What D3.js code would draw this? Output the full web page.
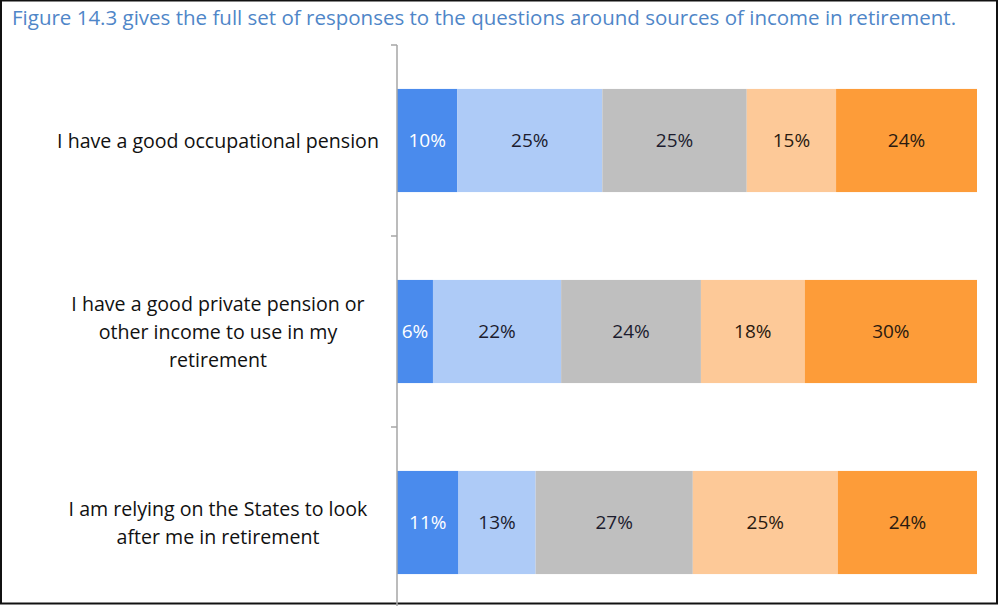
<!DOCTYPE html>
<html>
<head>
<meta charset="utf-8">
<script src="https://cdn.jsdelivr.net/npm/d3@7"></script>
<style>
  body { margin: 0; background: #fff; }
  svg { display: block; }
</style>
</head>
<body>
<div id="chart"></div>
<script>
// categories (top to bottom) and the five response bands, in percent
const categories = [
    ['I have a good occupational pension'],
    ['I have a good private pension or', 'other income to use in my', 'retirement'],
    ['I am relying on the States to look', 'after me in retirement']
];
const band1 = [10.4, 6.2, 10.6];
const band2 = [25.0, 22.1, 13.3];
const band3 = [24.9, 24.1, 27.1];
const band4 = [15.4, 17.9, 25.0];
const band5 = [24.3, 29.7, 24.0];
const bandColors = ['#4a8bed', '#aecbf7', '#bfbfbf', '#fdc998', '#fd9c39'];
const labelColors = ['#ffffff', '#1c1c2e', '#1c1c2e', '#2a1a10', '#2a1a10'];

const title = 'Figure 14.3 gives the full set of responses to the questions around sources of income in retirement.';

const width = 1000, height = 606;
const margin = { top: 45, right: 23, bottom: -12, left: 397 };
const font = 'Open Sans, sans-serif';

const svg = d3.select('#chart')
    .append('svg')
    .attr('width', width)
    .attr('height', height);

svg.append('rect')
    .attr('x', 1).attr('y', 0.5)
    .attr('width', width - 4).attr('height', height - 3)
    .attr('fill', '#fff')
    .attr('stroke', '#111')
    .attr('stroke-width', 2);

svg.append('text')
    .attr('x', 12)
    .attr('y', 25)
    .attr('fill', '#4f86c8')
    .attr('font-family', font)
    .attr('font-size', '20.5px')
    .text(title);

const rows = categories.map((c, i) => ({
    key: i,
    lines: c,
    values: [band1[i], band2[i], band3[i], band4[i], band5[i]]
}));

const xScale = d3.scaleLinear()
    .domain([0, 100])
    .range([margin.left, width - margin.right]);

const yScale = d3.scaleBand()
    .domain(rows.map(d => d.key))
    .range([margin.top, height - margin.bottom])
    .paddingInner(0.46)
    .paddingOuter(0.23);

// stack
const stack = d3.stack().keys([0, 1, 2, 3, 4]).value((d, k) => d.values[k]);
const series = stack(rows);

const groups = svg.selectAll('.series')
    .data(series)
    .enter()
    .append('g')
    .attr('class', 'series');

groups.selectAll('rect')
    .data(d => d.map(p => ({ p: p, k: d.key })))
    .enter()
    .append('rect')
    .attr('x', d => xScale(d.p[0]))
    .attr('y', d => yScale(d.p.data.key))
    .attr('width', d => xScale(d.p[1]) - xScale(d.p[0]))
    .attr('height', yScale.bandwidth())
    .attr('fill', d => bandColors[d.k]);

groups.selectAll('text')
    .data(d => d.map(p => ({ p: p, k: d.key })))
    .enter()
    .append('text')
    .attr('x', d => (xScale(d.p[0]) + xScale(d.p[1])) / 2)
    .attr('y', d => yScale(d.p.data.key) + yScale.bandwidth() / 2)
    .attr('dy', '0.36em')
    .attr('text-anchor', 'middle')
    .attr('font-family', font)
    .attr('font-size', '19px')
    .attr('fill', d => labelColors[d.k])
    .text(d => Math.round(d.p[1] - d.p[0]) + '%');

// category axis
const yAxis = d3.axisLeft(yScale)
    .tickSize(0)
    .tickFormat('');

const axisG = svg.append('g')
    .attr('transform', `translate(${margin.left},0)`)
    .call(yAxis);
axisG.select('.domain')
    .attr('stroke', '#a6a6a6')
    .attr('stroke-width', 1.5)
    .attr('d', `M0,${margin.top}V${height}`);

// tick marks at band boundaries
const step = yScale.step();
const boundaries = d3.range(rows.length + 1).map(i => margin.top + i * step);
svg.selectAll('.tickmark')
    .data(boundaries)
    .enter()
    .append('line')
    .attr('x1', margin.left - 6)
    .attr('x2', margin.left)
    .attr('y1', d => d)
    .attr('y2', d => d)
    .attr('stroke', '#a6a6a6')
    .attr('stroke-width', 1.5);

// category labels
const lineH = 28;
svg.selectAll('.cat')
    .data(rows)
    .enter()
    .append('text')
    .attr('class', 'cat')
    .attr('text-anchor', 'middle')
    .attr('font-family', font)
    .attr('font-size', '19.6px')
    .attr('fill', '#111')
    .each(function(d) {
        const cy = yScale(d.key) + yScale.bandwidth() / 2;
        const n = d.lines.length;
        d3.select(this).selectAll('tspan')
            .data(d.lines)
            .enter()
            .append('tspan')
            .attr('x', 218)
            .attr('y', (l, i) => cy + (i - (n - 1) / 2) * lineH)
            .attr('dy', '0.36em')
            .text(l => l);
    });
</script>
</body>
</html>
